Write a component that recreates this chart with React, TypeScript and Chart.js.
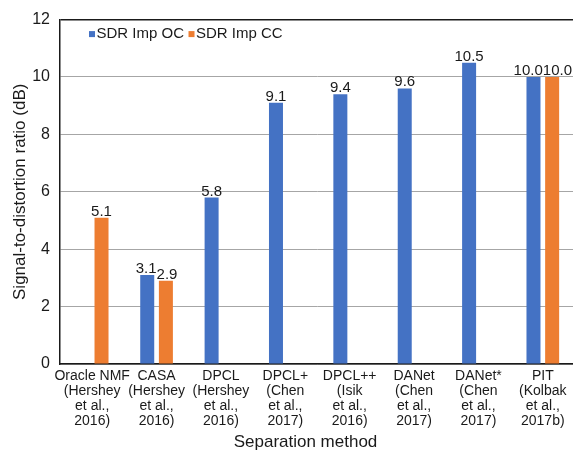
import { useEffect, useRef } from "react";
import { Chart, registerables } from "chart.js";

Chart.register(...registerables);

const categories: string[][] = [
  ["Oracle NMF", "(Hershey", "et al.,", "2016)"],
  ["CASA", "(Hershey", "et al.,", "2016)"],
  ["DPCL", "(Hershey", "et al.,", "2016)"],
  ["DPCL+", "(Chen", "et al.,", "2017)"],
  ["DPCL++", "(Isik", "et al.,", "2016)"],
  ["DANet", "(Chen", "et al.,", "2017)"],
  ["DANet*", "(Chen", "et al.,", "2017)"],
  ["PIT", "(Kolbak", "et al.,", "2017b)"],
];
const seriesNames = ["SDR Imp OC", "SDR Imp CC"];
const sdrImpOC: (number | null)[] = [null, 3.1, 5.8, 9.1, 9.4, 9.6, 10.5, 10.0];
const sdrImpCC: (number | null)[] = [5.1, 2.9, null, null, null, null, null, 10.0];
const yMin = 0;
const yMax = 12;
const yStep = 2;
const xTitle = "Separation method";
const yTitle = "Signal-to-distortion ratio (dB)";

const BLUE = "#4472C4";
const ORANGE = "#ED7D31";
const TEXT = "#1a1a1a";
const FONT = "'Liberation Sans', Arial, sans-serif";

const dataLabelPlugin = {
  id: "dataLabels",
  afterDatasetsDraw(chart: any) {
    const ctx = chart.ctx;
    ctx.save();
    ctx.font = `15px ${FONT}`;
    ctx.fillStyle = TEXT;
    ctx.textAlign = "center";
    ctx.textBaseline = "alphabetic";
    const n = chart.data.labels.length;
    for (let i = 0; i < n; i++) {
      const items: { x: number; y: number; w: number; t: string }[] = [];
      chart.data.datasets.forEach((ds: any, di: number) => {
        const v = ds.data[i];
        if (v === null || v === undefined) return;
        const el = chart.getDatasetMeta(di).data[i];
        const t = v.toFixed(1);
        items.push({ x: el.x, y: el.y, w: ctx.measureText(t).width, t });
      });
      items.sort((a, b) => a.x - b.x);
      for (let k = 1; k < items.length; k++) {
        const p = items[k - 1];
        const c = items[k];
        const o = p.x + p.w / 2 - (c.x - c.w / 2);
        if (o > 0) {
          p.x -= o / 2;
          c.x += o / 2;
        }
      }
      items.forEach((it) => ctx.fillText(it.t, it.x, it.y - 2));
    }
    ctx.restore();
  },
};

const legendPlugin = {
  id: "innerLegend",
  afterDraw(chart: any) {
    const ctx = chart.ctx;
    const area = chart.chartArea;
    ctx.save();
    ctx.font = `15px ${FONT}`;
    ctx.textBaseline = "middle";
    ctx.textAlign = "left";
    let x = area.left + 29;
    const y = area.top + 14;
    chart.data.datasets.forEach((ds: any) => {
      ctx.fillStyle = ds.backgroundColor;
      ctx.fillRect(x, y - 2.5, 6, 6);
      x += 7.5;
      ctx.fillStyle = TEXT;
      ctx.fillText(ds.label, x, y);
      x += ctx.measureText(ds.label).width + 4.5;
    });
    ctx.restore();
  },
};

const xTitlePlugin = {
  id: "xTitle",
  afterDraw(chart: any) {
    const ctx = chart.ctx;
    const area = chart.chartArea;
    ctx.save();
    ctx.font = `17px ${FONT}`;
    ctx.fillStyle = TEXT;
    ctx.textAlign = "center";
    ctx.textBaseline = "alphabetic";
    ctx.fillText(xTitle, (area.left + area.right) / 2 - 12, chart.height - 6);
    ctx.restore();
  },
};

export default function App() {
  const ref = useRef<HTMLCanvasElement | null>(null);
  useEffect(() => {
    if (!ref.current) return;
    Chart.defaults.font.family = FONT;
    const chart = new Chart(ref.current, {
      type: "bar",
      data: {
        labels: categories,
        datasets: [
          {
            label: seriesNames[0],
            data: sdrImpOC,
            backgroundColor: BLUE,
            categoryPercentage: 0.58,
            barPercentage: 0.75,
          },
          {
            label: seriesNames[1],
            data: sdrImpCC,
            backgroundColor: ORANGE,
            categoryPercentage: 0.58,
            barPercentage: 0.75,
          },
        ],
      },
      options: {
        responsive: false,
        animation: false,
        layout: { padding: { top: 17, right: 25, left: 0, bottom: 0 } },
        plugins: {
          legend: { display: false },
          tooltip: { enabled: false },
        },
        scales: {
          x: {
            grid: { display: false, drawTicks: false },
            border: { display: true, color: "#1a1a1a", width: 1.5 },
            ticks: {
              color: TEXT,
              padding: 5,
              maxRotation: 0,
              autoSkip: false,
              font: { size: 14, lineHeight: "15px" as any },
            },
            afterFit(scale: any) {
              scale.height = 89;
            },
          },
          y: {
            min: yMin,
            max: yMax,
            ticks: {
              stepSize: yStep,
              color: TEXT,
              padding: 10,
              font: { size: 16 },
            },
            grid: {
              drawTicks: false,
              color: (c: any) => (c.tick && c.tick.value === yMax ? "#1a1a1a" : "#a6a6a6"),
              lineWidth: (c: any) => (c.tick && c.tick.value === yMax ? 1.5 : 1),
            },
            border: { display: true, color: "#1a1a1a", width: 1.5 },
            title: {
              display: true,
              text: yTitle,
              color: TEXT,
              font: { size: 17 },
              padding: { top: 10, bottom: 0 },
            },
            afterFit(scale: any) {
              scale.width = 60;
            },
          },
        },
      },
      plugins: [dataLabelPlugin, legendPlugin, xTitlePlugin],
    });
    return () => chart.destroy();
  }, []);
  return (
    <div
      style={{
        position: "fixed",
        left: 0,
        top: 0,
        width: 573,
        height: 453,
        overflow: "hidden",
        background: "#fff",
      }}
    >
      <canvas ref={ref} width={600} height={453} style={{ width: 600, height: 453, display: "block" }} />
    </div>
  );
}
